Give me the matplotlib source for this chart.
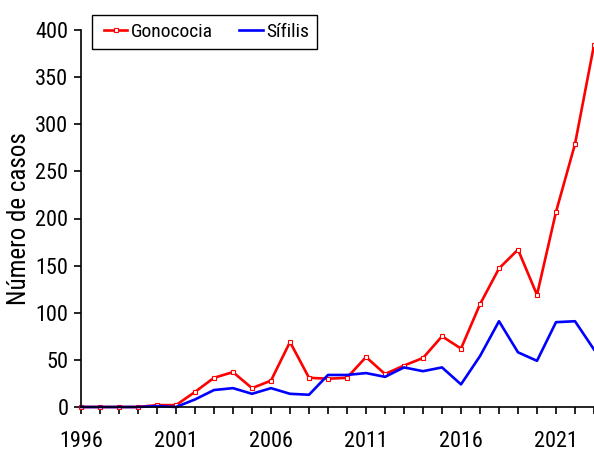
import numpy as np
import matplotlib.pyplot as plt
from matplotlib.patches import Rectangle

years = list(range(1996, 2024))
gonococia = [0, 0, 0, 0, 2, 2, 16, 31, 37, 20, 28, 69, 31, 30, 31,
             53, 35, 44, 52, 75, 62, 109, 147, 167, 119, 207, 279, 384]
sifilis = [0, 0, 0, 0, 1, 0, 8, 18, 20, 14, 20, 14, 13, 34, 34,
           36, 32, 42, 38, 42, 24, 54, 91, 58, 49, 90, 91, 61]

plt.rcParams['font.family'] = ['Roboto Condensed', 'Liberation Sans', 'DejaVu Sans']

W, H = 594, 453
fig = plt.figure(figsize=(W / 100, H / 100), dpi=100)
ax = fig.add_axes([81 / W, 46 / H, 513 / W, 377 / H])

ax.plot(years, gonococia, color='#ff0000', lw=1.9, marker='s', ms=3.5,
        mfc='white', mec='#ff0000', mew=0.8, label='Gonococia', clip_on=False)
ax.plot(years, sifilis, color='#0000ff', lw=1.9, label='Sífilis', clip_on=False)

ax.set_xlim(1996, 2023)
ax.set_ylim(0, 400)
ax.set_xticks(years)
ax.set_xticklabels([str(y) if (y - 1996) % 5 == 0 else '' for y in years])
ax.set_yticks(np.arange(0, 401, 50))

for s in ['top', 'right']:
    ax.spines[s].set_visible(False)
for s in ['left', 'bottom']:
    ax.spines[s].set_linewidth(1.2)

ax.tick_params(axis='both', direction='out', length=5, width=1.2, labelsize=16)
ax.tick_params(axis='x', pad=12)
ax.tick_params(axis='y', pad=4)
ax.set_ylabel('Número de casos', fontsize=18)
ax.yaxis.set_label_coords(-0.098, 0.5)

# legend frame drawn separately so the padding matches the original box
fig.patches.append(Rectangle((92 / W, 1 - 49 / H), 225 / W, 34 / H,
                             transform=fig.transFigure, fill=False,
                             edgecolor='black', lw=1.0))
fig.legend(loc='center left', bbox_to_anchor=(104 / W, 1 - 32 / H),
           borderaxespad=0, borderpad=0, frameon=False, ncol=2,
           fontsize=14, handlelength=1.2, handletextpad=0.2,
           columnspacing=1.35)

fig.savefig('out.png', dpi=100)
